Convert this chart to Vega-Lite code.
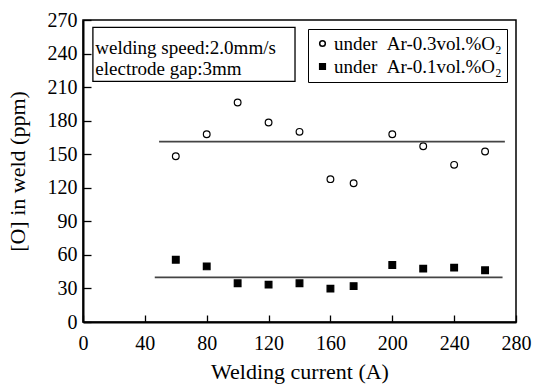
{
  "$schema": "https://vega.github.io/schema/vega-lite/v6.json",
  "width": 433,
  "height": 302,
  "autosize": {"type": "none"},
  "padding": {"left": 83, "top": 20, "right": 20, "bottom": 67},
  "background": "white",
  "config": {
    "font": "Liberation Serif, Times New Roman, serif",
    "view": {"stroke": "black", "strokeWidth": 1.5},
    "axis": {
      "grid": false,
      "domainColor": "black",
      "domainWidth": 2,
      "tickColor": "black",
      "tickWidth": 1.3,
      "labelFont": "Liberation Serif, Times New Roman, serif",
      "labelColor": "black",
      "labelFontSize": 20,
      "labelFlush": false,
      "labelOverlap": false,
      "titleFont": "Liberation Serif, Times New Roman, serif",
      "titleColor": "black",
      "titleFontSize": 22,
      "titleFontWeight": "normal"
    },
    "axisX": {"tickSize": -7, "labelPadding": 18, "titlePadding": 8},
    "axisY": {"tickSize": -8, "labelPadding": 14, "titlePadding": 18},
    "legend": {
      "labelFont": "Liberation Serif, Times New Roman, serif",
      "labelFontSize": 19,
      "labelColor": "black",
      "labelLimit": 400
    }
  },
  "datasets": {
    "points": [
      {"current": 60, "oxygen": 148.2, "atmosphere": "under\u2002Ar-0.3vol.%O₂"},
      {"current": 80, "oxygen": 167.9, "atmosphere": "under\u2002Ar-0.3vol.%O₂"},
      {"current": 100, "oxygen": 196.2, "atmosphere": "under\u2002Ar-0.3vol.%O₂"},
      {"current": 120, "oxygen": 178.3, "atmosphere": "under\u2002Ar-0.3vol.%O₂"},
      {"current": 140, "oxygen": 170.0, "atmosphere": "under\u2002Ar-0.3vol.%O₂"},
      {"current": 160, "oxygen": 127.7, "atmosphere": "under\u2002Ar-0.3vol.%O₂"},
      {"current": 175, "oxygen": 124.1, "atmosphere": "under\u2002Ar-0.3vol.%O₂"},
      {"current": 200, "oxygen": 167.9, "atmosphere": "under\u2002Ar-0.3vol.%O₂"},
      {"current": 220, "oxygen": 157.1, "atmosphere": "under\u2002Ar-0.3vol.%O₂"},
      {"current": 240, "oxygen": 140.5, "atmosphere": "under\u2002Ar-0.3vol.%O₂"},
      {"current": 260, "oxygen": 152.4, "atmosphere": "under\u2002Ar-0.3vol.%O₂"},
      {"current": 60, "oxygen": 55.7, "atmosphere": "under\u2002Ar-0.1vol.%O₂"},
      {"current": 80, "oxygen": 49.7, "atmosphere": "under\u2002Ar-0.1vol.%O₂"},
      {"current": 100, "oxygen": 34.6, "atmosphere": "under\u2002Ar-0.1vol.%O₂"},
      {"current": 120, "oxygen": 33.4, "atmosphere": "under\u2002Ar-0.1vol.%O₂"},
      {"current": 140, "oxygen": 34.6, "atmosphere": "under\u2002Ar-0.1vol.%O₂"},
      {"current": 160, "oxygen": 29.8, "atmosphere": "under\u2002Ar-0.1vol.%O₂"},
      {"current": 175, "oxygen": 32.1, "atmosphere": "under\u2002Ar-0.1vol.%O₂"},
      {"current": 200, "oxygen": 50.9, "atmosphere": "under\u2002Ar-0.1vol.%O₂"},
      {"current": 220, "oxygen": 47.7, "atmosphere": "under\u2002Ar-0.1vol.%O₂"},
      {"current": 240, "oxygen": 48.6, "atmosphere": "under\u2002Ar-0.1vol.%O₂"},
      {"current": 260, "oxygen": 46.2, "atmosphere": "under\u2002Ar-0.1vol.%O₂"}
    ],
    "means": [
      {"current": 49.2, "oxygen": 161.3, "atmosphere": "under\u2002Ar-0.3vol.%O₂"},
      {"current": 272.8, "oxygen": 161.3, "atmosphere": "under\u2002Ar-0.3vol.%O₂"},
      {"current": 46.4, "oxygen": 39.9, "atmosphere": "under\u2002Ar-0.1vol.%O₂"},
      {"current": 271.3, "oxygen": 39.9, "atmosphere": "under\u2002Ar-0.1vol.%O₂"}
    ],
    "note": [
      {"line": "welding speed:2.0mm/s"}
    ]
  },
  "layer": [
    {
      "data": {"name": "points"},
      "mark": {"type": "point", "stroke": "black", "strokeWidth": 1.2, "opacity": 1, "size": 45},
      "encoding": {
        "x": {
          "field": "current",
          "type": "quantitative",
          "title": "Welding current (A)",
          "scale": {"domain": [0, 280], "nice": false, "zero": false},
          "axis": {"values": [0, 40, 80, 120, 160, 200, 240, 280]}
        },
        "y": {
          "field": "oxygen",
          "type": "quantitative",
          "title": "[O] in weld (ppm)",
          "scale": {"domain": [0, 270], "nice": false},
          "axis": {"values": [0, 30, 60, 90, 120, 150, 180, 210, 240, 270]}
        },
        "shape": {
          "field": "atmosphere",
          "type": "nominal",
          "scale": {"domain": ["under\u2002Ar-0.3vol.%O₂", "under\u2002Ar-0.1vol.%O₂"], "range": ["circle", "square"]},
          "legend": {
            "title": null,
            "orient": "top-right",
            "offset": 9,
            "padding": 5,
            "rowPadding": 3,
            "labelOffset": 2,
            "symbolSize": 32,
            "strokeColor": "black",
            "fillColor": "white",
            "encode": {"symbols": {"update": {"stroke": {"value": "black"}, "strokeWidth": {"value": 1.2}}}}
          }
        },
        "fill": {
          "field": "atmosphere",
          "type": "nominal",
          "scale": {"domain": ["under\u2002Ar-0.3vol.%O₂", "under\u2002Ar-0.1vol.%O₂"], "range": ["white", "black"]},
          "legend": {
            "title": null,
            "orient": "top-right",
            "offset": 9,
            "padding": 5,
            "rowPadding": 3,
            "labelOffset": 2,
            "symbolSize": 32,
            "strokeColor": "black",
            "fillColor": "white",
            "encode": {"symbols": {"update": {"stroke": {"value": "black"}, "strokeWidth": {"value": 1.2}}}}
          }
        }
      }
    },
    {
      "data": {"name": "means"},
      "mark": {"type": "line", "color": "#444444", "strokeWidth": 1.6},
      "encoding": {
        "x": {"field": "current", "type": "quantitative", "title": "Welding current (A)", "axis": {"values": [0, 40, 80, 120, 160, 200, 240, 280]}},
        "y": {"field": "oxygen", "type": "quantitative", "title": "[O] in weld (ppm)", "axis": {"values": [0, 30, 60, 90, 120, 150, 180, 210, 240, 270]}},
        "detail": {"field": "atmosphere"}
      }
    },
    {
      "data": {"name": "note"},
      "mark": {"type": "rect", "fill": "white", "stroke": "black", "strokeWidth": 1.3},
      "encoding": {
        "x": {"datum": 6.4, "type": "quantitative", "title": "Welding current (A)", "axis": {"values": [0, 40, 80, 120, 160, 200, 240, 280]}},
        "x2": {"datum": 137.1},
        "y": {"datum": 263.4, "type": "quantitative", "title": "[O] in weld (ppm)", "axis": {"values": [0, 30, 60, 90, 120, 150, 180, 210, 240, 270]}},
        "y2": {"datum": 215.2}
      }
    },
    {
      "data": {"name": "note"},
      "mark": {"type": "text", "align": "left", "baseline": "alphabetic", "fontSize": 19, "font": "Liberation Serif, Times New Roman, serif", "color": "black"},
      "encoding": {
        "text": {"value": "welding speed:2.0mm/s"},
        "x": {"datum": 8.0, "type": "quantitative", "title": "Welding current (A)", "axis": {"values": [0, 40, 80, 120, 160, 200, 240, 280]}},
        "y": {"datum": 239.9, "type": "quantitative", "title": "[O] in weld (ppm)", "axis": {"values": [0, 30, 60, 90, 120, 150, 180, 210, 240, 270]}}
      }
    },
    {
      "data": {"name": "note"},
      "mark": {"type": "text", "align": "left", "baseline": "alphabetic", "fontSize": 19, "font": "Liberation Serif, Times New Roman, serif", "color": "black"},
      "encoding": {
        "text": {"value": "electrode gap:3mm"},
        "x": {"datum": 8.0, "type": "quantitative", "title": "Welding current (A)", "axis": {"values": [0, 40, 80, 120, 160, 200, 240, 280]}},
        "y": {"datum": 221.2, "type": "quantitative", "title": "[O] in weld (ppm)", "axis": {"values": [0, 30, 60, 90, 120, 150, 180, 210, 240, 270]}}
      }
    }
  ]
}
